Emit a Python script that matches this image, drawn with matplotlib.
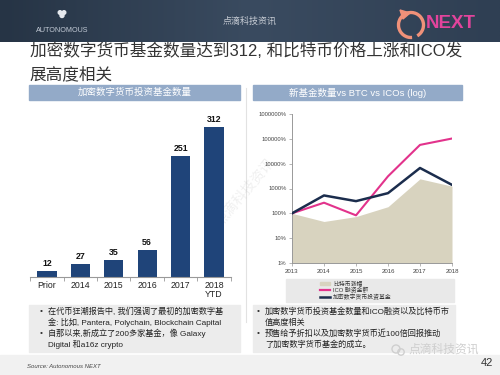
import numpy as np
import matplotlib
matplotlib.use("Agg")
import matplotlib.pyplot as plt
from matplotlib.patches import Rectangle, Arc, Polygon, Circle
from matplotlib.colors import LinearSegmentedColormap

plt.rcParams['font.family'] = ['Liberation Sans', 'Noto Sans CJK SC', 'DejaVu Sans']

# ---------------- data ----------------
bar_categories = ["Prior", "2014", "2015", "2016", "2017", "2018\nYTD"]
fund_counts = [12, 27, 35, 56, 251, 312]

line_years = ["2013", "2014", "2015", "2016", "2017", "2018"]
btc_growth = [100, 47, 74, 185, 2450, 1240]          # %
ico_funding = [100, 268, 83, 3100, 57000, 103000]   # %
new_funds = [100, 525, 310, 650, 6700, 1400]        # %
log_ticks = [1, 10, 100, 1000, 10000, 100000, 1000000]
log_tick_labels = ["1%", "10%", "100%", "1000%", "10000%", "100000%", "1000000%"]
legend_labels = ["比特币涨幅", "ICO 融资金额", "加密数字货币投资基金"]

title_lines = ["加密数字货币基金数量达到312, 和比特币价格上涨和ICO发", "展高度相关"]
left_header = "加密数字货币投资基金数量"
right_header = "新基金数量vs BTC vs ICOs (log)"
left_bullets = [("• ", "在代币狂潮报告中, 我们强调了最初的加密数字基"),
                ("", "金: 比如, Pantera, Polychain, Blockchain Capital"),
                ("• ", "自那以来,新成立了200多家基金，像 Galaxy"),
                ("", "Digital 和a16z crypto")]
right_bullets = [("• ", "加密数字货币投资基金数量和ICO融资以及比特币市"),
                 ("", "值高度相关"),
                 ("• ", "预售给予折扣以及加密数字货币近100倍回报推动"),
                 ("", "了加密数字货币基金的成立。")]

W, H = 500, 375
fig = plt.figure(figsize=(5, 3.75), dpi=100)
fig.patch.set_facecolor("white")

def frac(x0, y0, x1, y1):
    return [x0 / W, 1 - y1 / H, (x1 - x0) / W, (y1 - y0) / H]

bg = fig.add_axes([0, 0, 1, 1])
bg.axis("off")

# header band with gradient
grad = np.linspace(0, 1, 256).reshape(1, -1)
hcmap = LinearSegmentedColormap.from_list("h", ["#263445", "#3a4b60", "#2f3f53"])
bg.imshow(grad, extent=[0, W, 42, 0], aspect="auto", cmap=hcmap, zorder=0)
bg.set_xlim(0, W)
bg.set_ylim(H, 0)
bg.text(250, 21, "点滴科技资讯", ha="center", va="center", fontsize=6.5, color="#c9ced6")
bg.text(62, 31, "AUTONOMOUS", ha="center", va="center", fontsize=5.2, color="#c3cbd6")
for dx, dy, r in [(-2, -1.5, 1.8), (2, -1.5, 1.8), (0, 1.5, 2.0)]:
    bg.add_patch(Circle((62 + dx, 14 + dy), r, color="#e6e9ee", zorder=2))
# NEXT logo
bg.add_patch(Arc((411, 25), 25, 25, theta1=85, theta2=420, lw=2.4, color="#f09179", zorder=3))
bg.add_patch(Polygon([[400, 10], [410, 13], [403, 19]], closed=True, color="#f09179", zorder=3))
bg.text(426, 24, "NEXT", ha="left", va="center", fontsize=13.5, fontweight="bold", color="#e2449c")

# title
bg.text(30, 51, title_lines[0], ha="left", va="center", fontsize=12.0, color="#333333")
bg.text(30, 74, title_lines[1], ha="left", va="center", fontsize=12.0, color="#333333")

# panel headers
for x0, x1, label in [(29, 240, left_header), (253, 462, right_header)]:
    bg.add_patch(Rectangle((x0, 85), x1 - x0, 15, color="#93aac8", zorder=1))
    bg.text((x0 + x1) / 2, 92.5, label, ha="center", va="center", fontsize=6.8, color="white", zorder=2)

# divider
bg.plot([246, 246], [88, 322], color="#e2e2e2", lw=0.8)

# bottom text boxes
for x0, x1, lines, bx in [(29, 240, left_bullets, 40), (253, 455, right_bullets, 257)]:
    bg.add_patch(Rectangle((x0, 305), x1 - x0, 47, color="#ececec", zorder=1))
    for i, (b, t) in enumerate(lines):
        y = 312 + i * 10.8
        if b:
            bg.text(bx, y, "•", ha="left", va="center", fontsize=5.9, color="#333333", zorder=2)
        bg.text(bx + 8, y, t, ha="left", va="center", fontsize=5.9, color="#222222", zorder=2)

# footer
bg.add_patch(Rectangle((0, 355), W, 20, color="#f1f1f1", zorder=0))
bg.text(27, 366, "Source: Autonomous NEXT", ha="left", va="center", fontsize=4.3,
        style="italic", color="#444444")
bg.text(493, 363, "42", ha="right", va="center", fontsize=8, color="#333333")
bg.text(408, 350, "点滴科技资讯", ha="left", va="center", fontsize=8.5, color="#cfcfcf", zorder=3)
bg.add_patch(Circle((396, 349), 4.0, fill=False, ec="#cfcfcf", lw=1.0, zorder=3))
bg.add_patch(Circle((401, 352), 3.2, fill=False, ec="#cfcfcf", lw=1.0, zorder=3))
# diagonal watermark
bg.text(245, 192, "点滴科技资讯", ha="center", va="center", fontsize=10, color="#bbbbbb",
        alpha=0.22, rotation=50, zorder=5)

# legend box (right chart)
bg.add_patch(Rectangle((286, 279), 168, 23, color="#e9e9e9", zorder=1))
bg.add_patch(Rectangle((320, 281.5), 10, 3.5, color="#d8d3bf", zorder=2))
bg.plot([320, 330], [290, 290], color="#e2338c", lw=1.6, zorder=2)
bg.plot([320, 330], [297, 297], color="#1b2d4d", lw=1.8, zorder=2)
for y, lab in zip([283.5, 290, 297], legend_labels):
    bg.text(333, y, lab, ha="left", va="center", fontsize=4.2, color="#333333", zorder=2)

# ---------------- left bar chart ----------------
axb = fig.add_axes(frac(30.3, 110, 230.7, 277))
axb.set_facecolor("none")
xpos = np.arange(len(fund_counts))
axb.bar(xpos, fund_counts, width=0.57, color="#1f4479", zorder=2)
for x, v in zip(xpos, fund_counts):
    axb.text(x, v + 6, str(v), ha="center", va="bottom", fontsize=6.3, fontweight="bold", color="#111111")
axb.set_xlim(-0.5, 5.5)
axb.set_ylim(0, 347)
for s in ["top", "right", "left"]:
    axb.spines[s].set_visible(False)
axb.spines["bottom"].set_color("#999999")
axb.spines["bottom"].set_linewidth(0.8)
axb.set_yticks([])
axb.set_xticks(xpos)
axb.set_xticklabels(bar_categories, fontsize=6.3, color="#222222", linespacing=0.95)
axb.tick_params(axis="x", length=0, pad=3)
axb.set_xticks(np.arange(-0.5, 6.0, 1.0), minor=True)
axb.tick_params(axis="x", which="minor", length=3, color="#999999", width=0.6)

# ---------------- right log chart ----------------
axl = fig.add_axes(frac(292, 114, 452, 263))
axl.set_facecolor("none")
xl = np.arange(len(line_years))
axl.set_yscale("log")
axl.fill_between(xl, 1, btc_growth, color="#d8d3bf", lw=0, zorder=1)
axl.plot(xl, ico_funding, color="#e2338c", lw=1.5, zorder=3)
axl.plot(xl, new_funds, color="#1b2d4d", lw=1.8, zorder=4)
axl.set_xlim(0, 5)
axl.set_ylim(1, 1000000)
axl.set_yticks(log_ticks)
axl.set_yticklabels(log_tick_labels, fontsize=4.2, color="#444444")
axl.minorticks_off()
axl.set_xticks(xl)
axl.set_xticklabels(line_years, fontsize=4.4, color="#444444")
for s in ["top", "right"]:
    axl.spines[s].set_visible(False)
for s in ["left", "bottom"]:
    axl.spines[s].set_color("#999999")
    axl.spines[s].set_linewidth(0.7)
axl.tick_params(axis="y", length=2, width=0.5, color="#999999", pad=2)
axl.tick_params(axis="x", length=2, width=0.5, color="#999999", pad=2)

fig.savefig("out.png", dpi=100)
